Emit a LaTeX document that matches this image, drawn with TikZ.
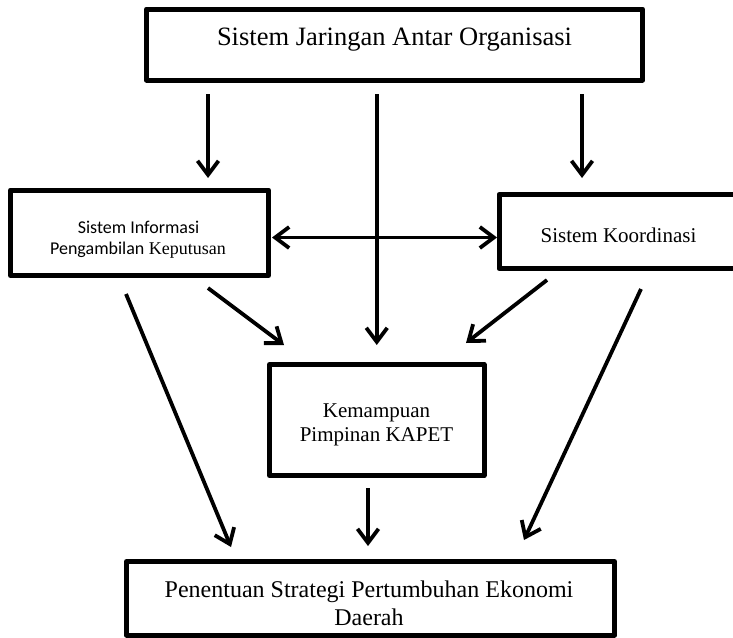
\documentclass[tikz,border=0pt]{standalone}
\usepackage{fontspec}
\setmainfont{Liberation Serif}
\newfontfamily\sansf{Carlito}
\usetikzlibrary{arrows.meta,calc}
\begin{document}
\begin{tikzpicture}[x=1pt,y=-1pt,
  box/.style={draw, line width=5pt, rectangle, inner sep=0pt, outer sep=0pt, line join=round},
  arr/.style={line width=3.8pt, -{Straight Barb[length=14pt,width=21pt]}},
  darr/.style={line width=3.8pt, {Straight Barb[length=14pt,width=21pt]}-{Straight Barb[length=14pt,width=21pt]}},
  lbl/.style={anchor=base, inner sep=0pt},
  big/.style={font=\fontsize{26.5}{30}\selectfont},
  med/.style={font=\fontsize{24}{28}\selectfont},
  mid/.style={font=\fontsize{21}{24}\selectfont},
  sml/.style={font=\fontsize{18}{21}\selectfont}]
\clip (0,0) rectangle (733,637);
% boxes
\node[box, minimum width=496pt, minimum height=71pt] (top) at (394.5,44.5) {};
\node[box, minimum width=258pt, minimum height=85.5pt] (lbox) at (139.5,232.75) {};
\node[box, minimum width=239pt, minimum height=74pt] (rbox) at (618.5,231.5) {};
\node[box, minimum width=214.5pt, minimum height=111pt] (cbox) at (376.75,420) {};
\node[box, minimum width=488pt, minimum height=73.5pt] (bbox) at (370.5,598.25) {};
% texts
\node[lbl, big] (ttop) at (394.5,45) {Sistem Jaringan Antar Organisasi};
\node[lbl, sml] (tl1) at (138.5,233) {\sansf Sistem Informasi};
\node[lbl, sml] (tl2) at (138,254) {{\sansf Pengambilan} Keputusan};
\node[lbl, mid] (tr) at (618.5,242) {Sistem Koordinasi};
\node[lbl, mid] (tc1) at (376.5,417) {Kemampuan};
\node[lbl, mid] (tc2) at (376.5,441) {Pimpinan KAPET};
\node[lbl, med] (tb1) at (369,597) {Penentuan Strategi Pertumbuhan Ekonomi};
\node[lbl, med] (tb2) at (369,625) {Daerah};
% connectors
\draw[arr] ($(top.south)+(-186.5,14)$) -- ($(lbox.north)+(68.5,-12)$);
\draw[arr] ($(top.south)+(-17.75,14)$) -- ($(cbox.north)+(0,-19.5)$);
\draw[arr] ($(top.south)+(187.5,14)$) -- ($(rbox.north)+(-36.5,-16.5)$);
\draw[darr] ($(lbox.east)+(3.5,4.75)$) -- ($(rbox.west)+(-2,6)$);
\draw[arr] ($(lbox.south)+(68.5,12.5)$) -- ($(cbox.north)+(-92.75,-19.5)$);
\draw[arr] ($(rbox.south)+(-71.5,11.5)$) -- ($(cbox.north)+(89.25,-21.5)$);
\draw[arr] ($(lbox.south)+(-13.5,18.5)$) -- ($(bbox.north)+(-139.5,-14.5)$);
\draw[arr] ($(rbox.south)+(22.5,20.5)$) -- ($(bbox.north)+(153.5,-21.5)$);
\draw[arr] ($(cbox.south)+(-8.75,12.5)$) -- ($(bbox.north)+(-2.5,-15.5)$);
\end{tikzpicture}
\end{document}
